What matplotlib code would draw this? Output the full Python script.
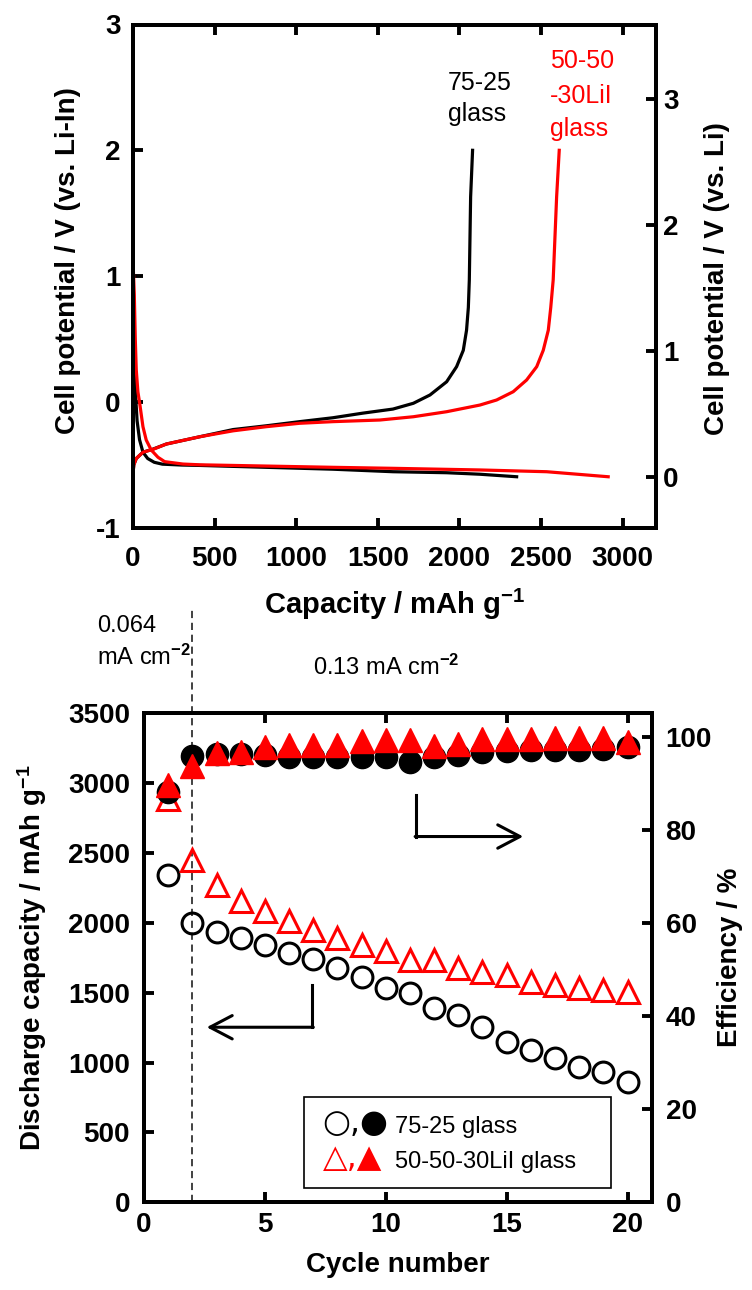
import matplotlib
matplotlib.use('Agg')
import matplotlib.pyplot as plt
from matplotlib.patches import Rectangle

plt.rcParams['font.family'] = ['Liberation Sans', 'DejaVu Sans']
plt.rcParams['font.weight'] = 'bold'
plt.rcParams['axes.unicode_minus'] = False
plt.rcParams['mathtext.fontset'] = 'custom'
plt.rcParams['mathtext.rm'] = 'Liberation Sans'
plt.rcParams['mathtext.bf'] = 'Liberation Sans:bold'
plt.rcParams['mathtext.it'] = 'Liberation Sans:italic'

# ---------------- data: charge/discharge curves (V vs. Li-In) ----------------
cap_dis_7525 = [0, 5, 10, 16, 25, 40, 61, 90, 130, 180, 300, 409, 817, 1225, 1593, 1922, 2126, 2351]
v_dis_7525 = [1.08, 0.70, 0.30, 0.05, -0.15, -0.30, -0.40, -0.45, -0.48, -0.495, -0.502, -0.505, -0.52, -0.535, -0.555, -0.563, -0.575, -0.595]
cap_chg_7525 = [0, 5, 20, 61, 123, 204, 409, 613, 817, 1021, 1225, 1405, 1593, 1718, 1820, 1922, 1983, 2024, 2044, 2055, 2061, 2069, 2081]
v_chg_7525 = [-0.57, -0.50, -0.45, -0.40, -0.375, -0.335, -0.277, -0.22, -0.19, -0.157, -0.126, -0.09, -0.057, -0.011, 0.055, 0.16, 0.28, 0.41, 0.57, 0.75, 0.97, 1.63, 2.00]

cap_dis_lii = [0, 8, 14, 20, 30, 41, 61, 81, 112, 153, 194, 306, 409, 817, 1225, 1593, 2126, 2535, 2912]
v_dis_lii = [1.12, 0.85, 0.50, 0.254, 0.08, -0.011, -0.197, -0.303, -0.383, -0.44, -0.475, -0.494, -0.50, -0.51, -0.52, -0.528, -0.541, -0.555, -0.595]
cap_chg_lii = [0, 5, 20, 61, 123, 204, 409, 613, 817, 1021, 1225, 1513, 1718, 1922, 2126, 2228, 2330, 2412, 2474, 2514, 2545, 2560, 2575, 2596, 2612]
v_chg_lii = [-0.57, -0.50, -0.45, -0.40, -0.377, -0.335, -0.277, -0.23, -0.197, -0.17, -0.157, -0.144, -0.118, -0.078, -0.025, 0.015, 0.081, 0.174, 0.28, 0.41, 0.57, 0.75, 0.97, 1.63, 2.00]

# ---------------- data: cycling ----------------
cycles = list(range(1, 21))
dcap_7525 = [2345, 2000, 1937, 1890, 1840, 1785, 1740, 1675, 1615, 1534, 1496, 1388, 1340, 1257, 1149, 1090, 1030, 970, 935, 863]
dcap_lii = [2887, 2450, 2270, 2160, 2085, 2015, 1950, 1890, 1840, 1800, 1734, 1734, 1675, 1650, 1627, 1579, 1555, 1531, 1519, 1507]
eff_7525 = [88.3, 96.0, 96.4, 96.4, 96.2, 95.8, 95.8, 95.8, 95.8, 95.8, 94.8, 95.8, 96.2, 96.8, 97.1, 97.2, 97.2, 97.2, 97.5, 98.0]
eff_lii = [89.8, 93.8, 96.6, 96.9, 97.9, 98.4, 98.4, 98.4, 99.3, 99.4, 99.4, 98.2, 98.6, 99.6, 99.6, 99.6, 99.8, 99.8, 99.8, 99.1]

cap_ticks = [0, 500, 1000, 1500, 2000, 2500, 3000]
v_left_ticks = [-1, 0, 1, 2, 3]
v_right_ticks = [0, 1, 2, 3]
cyc_ticks = [0, 5, 10, 15, 20]
dcap_ticks = [0, 500, 1000, 1500, 2000, 2500, 3000, 3500]
eff_ticks = [0, 20, 40, 60, 80, 100]

RED = '#ff0000'
W, H = 752, 1290
SPW = 2.8
TS = 20

fig = plt.figure(figsize=(W / 100, H / 100), dpi=100)


def fx(x):
    return x / W


def fy(y):
    return 1 - y / H


def style(ax, right_ax):
    for a in (ax, right_ax):
        for s in a.spines.values():
            s.set_linewidth(SPW)
    ax.tick_params(axis='both', direction='in', length=7, width=SPW, labelsize=TS)
    ax.tick_params(axis='x', top=True, labeltop=False)
    ax.tick_params(axis='y', right=False)
    right_ax.tick_params(axis='y', direction='in', length=7, width=SPW, labelsize=TS)


# ================= top panel =================
ax1 = fig.add_axes([fx(133), fy(527.7), fx(656 - 133), (527.7 - 24.5) / H])
ax1r = ax1.twinx()
ax1.plot(cap_dis_7525, v_dis_7525, color='black', lw=2.3, solid_joinstyle='round')
ax1.plot(cap_chg_7525, v_chg_7525, color='black', lw=2.3, solid_joinstyle='round')
ax1.plot(cap_dis_lii, v_dis_lii, color=RED, lw=2.3, solid_joinstyle='round')
ax1.plot(cap_chg_lii, v_chg_lii, color=RED, lw=2.3, solid_joinstyle='round')
ax1.set_xlim(0, 3205)
ax1.set_ylim(-1, 3)
ax1r.set_ylim(-1 + 0.595, 3 + 0.595)
ax1.set_xticks(cap_ticks)
ax1.set_yticks(v_left_ticks)
ax1r.set_yticks(v_right_ticks)
style(ax1, ax1r)
ax1.tick_params(axis='x', pad=13)
ax1.tick_params(axis='y', pad=9)
ax1r.tick_params(axis='y', pad=5)

ax1.set_xlabel('Capacity / mAh g$^{\\mathbf{-1}}$', fontsize=21, fontweight='bold')
ax1.xaxis.set_label_coords(0.5, -0.152)
ax1.xaxis.label.set_va('center')
ax1.set_ylabel('Cell potential / V (vs. Li-In)', fontsize=TS, fontweight='bold')
ax1.yaxis.set_label_coords(-0.124, 0.53)
ax1.yaxis.label.set_va('center')
ax1r.set_ylabel('Cell potential / V (vs. Li)', fontsize=TS, fontweight='bold', rotation=90)
ax1r.yaxis.set_label_coords(1.116, 0.496)
ax1r.yaxis.label.set_va('center')
ax1r.yaxis.label.set_ha('center')

fig.text(fx(448), fy(90), '75-25', fontsize=18, fontweight='normal', color='black', va='baseline', ha='left')
fig.text(fx(448), fy(121), 'glass', fontsize=18, fontweight='normal', color='black', va='baseline', ha='left')
fig.text(fx(550), fy(68), '50-50', fontsize=18, fontweight='normal', color=RED, va='baseline', ha='left')
fig.text(fx(550), fy(103), '-30LiI', fontsize=18, fontweight='normal', color=RED, va='baseline', ha='left')
fig.text(fx(550), fy(136), 'glass', fontsize=18, fontweight='normal', color=RED, va='baseline', ha='left')

# ================= bottom panel =================
ax2 = fig.add_axes([fx(144), fy(1202.3), fx(651.7 - 144), (1202.3 - 713.3) / H])
ax2r = ax2.twinx()
ax2.set_xlim(0, 21)
ax2.set_ylim(0, 3500)
ax2r.set_ylim(0, 105.2)
ax2.set_xticks(cyc_ticks)
ax2.set_yticks(dcap_ticks)
ax2r.set_yticks(eff_ticks)
style(ax2, ax2r)
ax2.tick_params(axis='x', pad=7)
ax2.tick_params(axis='y', pad=10)
ax2r.tick_params(axis='y', pad=10)

ax2.plot(cycles, dcap_7525, ls='none', marker='o', ms=15, mfc='none', mec='black', mew=2.2, zorder=3)
ax2.plot(cycles, dcap_lii, ls='none', marker='^', ms=16.5, mfc='none', mec=RED, mew=2.2, zorder=3)
ax2r.plot(cycles, eff_7525, ls='none', marker='o', ms=16, mfc='black', mec='black', zorder=3)
ax2r.plot(cycles, eff_lii, ls='none', marker='^', ms=17, mfc=RED, mec=RED, zorder=4)

# dashed separator at cycle 2 (extends above the axes)
ax2.plot([2, 2], [0, 1.211], transform=ax2.get_xaxis_transform(), color='#333333', lw=1.3,
         ls=(0, (4, 2.6)), clip_on=False, zorder=2)

ax2.set_xlabel('Cycle number', fontsize=TS, fontweight='bold')
ax2.xaxis.set_label_coords(0.5, -0.128)
ax2.xaxis.label.set_va('center')
ax2.set_ylabel('Discharge capacity / mAh g$^{\\mathbf{-1}}$', fontsize=TS, fontweight='bold')
ax2.yaxis.set_label_coords(-0.221, 0.5)
ax2.yaxis.label.set_va('center')
ax2r.set_ylabel('Efficiency / %', fontsize=TS, fontweight='bold', rotation=90)
ax2r.yaxis.set_label_coords(1.154, 0.5)
ax2r.yaxis.label.set_va('center')
ax2r.yaxis.label.set_ha('center')

# arrows
ax2.plot([0.536, 0.536], [0.833, 0.748], transform=ax2.transAxes, color='black', lw=2.2, clip_on=False)
ax2.annotate('', xy=(0.747, 0.748), xytext=(0.534, 0.748), xycoords='axes fraction',
             arrowprops=dict(arrowstyle='->,head_length=0.8,head_width=0.42', lw=2.2, color='black',
                             shrinkA=0, shrinkB=0, mutation_scale=20))
ax2.plot([0.3315, 0.3315], [0.444, 0.358], transform=ax2.transAxes, color='black', lw=2.2, clip_on=False)
ax2.annotate('', xy=(0.1235, 0.358), xytext=(0.3335, 0.358), xycoords='axes fraction',
             arrowprops=dict(arrowstyle='->,head_length=0.8,head_width=0.42', lw=2.2, color='black',
                             shrinkA=0, shrinkB=0, mutation_scale=20))

# current density notes
fig.text(fx(96.7), fy(631.7), '0.064', fontsize=17, fontweight='normal', va='baseline', ha='left')
fig.text(fx(96.7), fy(665), 'mA cm$^{-2}$', fontsize=17, fontweight='normal', va='baseline', ha='left')
fig.text(fx(313.3), fy(675), '0.13 mA cm$^{-2}$', fontsize=17, fontweight='normal', va='baseline', ha='left')

# legend box
ax2.add_patch(Rectangle((0.3146, 0.0286), 0.92 - 0.3146, 0.216 - 0.0286, transform=ax2.transAxes,
                        fill=True, facecolor='white', edgecolor='black', lw=1.2, zorder=5))
ax2.text(0.352, 0.1616, '\u25cb,\u25cf', fontsize=23, fontweight='normal', family=['DejaVu Sans'],
         color='black', transform=ax2.transAxes, va='center', ha='left', zorder=6)
ax2.text(0.352, 0.090, '\u25b3,\u25b2', fontsize=23, fontweight='normal', family=['DejaVu Sans'],
         color=RED, transform=ax2.transAxes, va='center', ha='left', zorder=6)
ax2.text(0.494, (1202.3 - 1133.3) / 489, '75-25 glass', fontsize=17, fontweight='normal',
         transform=ax2.transAxes, va='baseline', ha='left', zorder=6)
ax2.text(0.494, (1202.3 - 1167.7) / 489, '50-50-30LiI glass', fontsize=17, fontweight='normal',
         transform=ax2.transAxes, va='baseline', ha='left', zorder=6)

fig.savefig('out.png', dpi=100)
